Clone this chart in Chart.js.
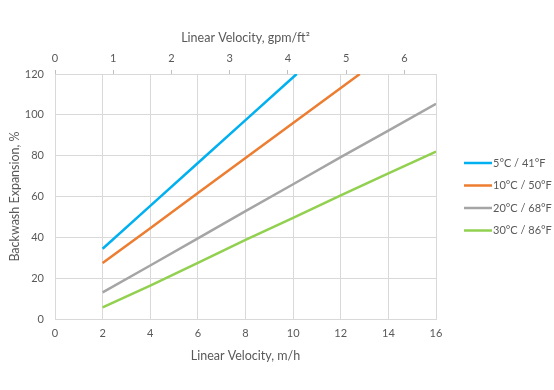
<!DOCTYPE html>
<html>
<head>
<meta charset="utf-8">
<script src="https://cdn.jsdelivr.net/npm/chart.js@4/dist/chart.umd.min.js"></script>
<style>
  body { margin: 0; background: #fff; }
</style>
</head>
<body>
<canvas id="chart" width="554" height="390"></canvas>
<script>
// values (x = linear velocity m/h, y = backwash expansion %)
const velocity = [2, 4, 6, 8, 10, 12, 14, 16];
const velocity5C = [2, 4, 6, 8, 10, 10.15];
const velocity10C = [2, 4, 6, 8, 10, 12, 12.8];

const expansion5C = [34.4, 55.4, 76.4, 97.4, 118.4, 120];
const expansion10C = [27.4, 44.5, 61.7, 78.8, 96, 113.2, 120];
const expansion20C = [13, 26.2, 39.5, 52.8, 66, 79.3, 92.3, 105.4];
const expansion30C = [5.7, 16.3, 27.5, 38.7, 49.5, 60.5, 71.3, 82];

const seriesLabels = ['5°C / 41°F', '10°C / 50°F', '20°C / 68°F', '30°C / 86°F'];
const seriesColors = ['#00B0F0', '#ED7D31', '#A5A5A5', '#92D050'];

const gpmTicks = [0, 1, 2, 3, 4, 5, 6];

const GPM_PER_MH = 0.409; // 1 m/h = 0.409 gpm/ft2
const textColor = '#595959';
const gridColor = '#D9D9D9';
const fontFamily = 'Lato, "Open Sans", sans-serif';

function toPoints(xs, ys) {
    return xs.map((x, i) => ({ x: x, y: ys[i] }));
}

const datasets = [
    toPoints(velocity5C, expansion5C),
    toPoints(velocity10C, expansion10C),
    toPoints(velocity, expansion20C),
    toPoints(velocity, expansion30C)
].map((data, i) => ({
    label: seriesLabels[i],
    data: data,
    borderColor: seriesColors[i],
    backgroundColor: seriesColors[i],
    borderWidth: 2.5,
    pointRadius: 0,
    tension: 0,
    xAxisID: 'x'
}));

// Excel-style legend: short line, label right next to it
const sideLegend = {
    id: 'sideLegend',
    afterDraw(chart) {
        const ctx = chart.ctx;
        const left = chart.chartArea.right + 28;
        const top = 163;
        const step = 22.5;
        ctx.save();
        ctx.font = '11px ' + fontFamily;
        ctx.textBaseline = 'middle';
        ctx.fillStyle = textColor;
        chart.data.datasets.forEach((ds, i) => {
            const y = top + i * step;
            ctx.strokeStyle = ds.borderColor;
            ctx.lineWidth = 2.5;
            ctx.beginPath();
            ctx.moveTo(left, y);
            ctx.lineTo(left + 28, y);
            ctx.stroke();
            ctx.fillText(ds.label, left + 29, y);
        });
        ctx.restore();
    }
};

new Chart(document.getElementById('chart'), {
    type: 'line',
    data: { datasets: datasets },
    plugins: [sideLegend],
    options: {
        responsive: false,
        animation: false,
        layout: { padding: { top: 26, left: 5, right: 118, bottom: 23 } },
        plugins: {
            tooltip: { enabled: false },
            legend: { display: false }
        },
        scales: {
            x: {
                type: 'linear',
                position: 'bottom',
                min: 0,
                max: 16,
                afterFit: axis => { axis.height = 48; },
                ticks: { stepSize: 2, color: textColor, font: { family: fontFamily, size: 11 }, padding: 8 },
                grid: { color: gridColor, drawTicks: false },
                border: { color: gridColor },
                title: {
                    display: true,
                    text: 'Linear Velocity, m/h',
                    color: textColor,
                    font: { family: fontFamily, size: 12.5 },
                    padding: { top: 4, bottom: 4 }
                }
            },
            x2: {
                type: 'linear',
                position: 'top',
                min: 0,
                max: 16 * GPM_PER_MH,
                afterBuildTicks: axis => {
                    axis.ticks = gpmTicks.map(v => ({ value: v }));
                },
                afterFit: axis => { axis.height = 48; },
                ticks: { color: textColor, font: { family: fontFamily, size: 11 }, padding: 5 },
                grid: { drawOnChartArea: false, drawTicks: true, tickLength: 4, color: '#BFBFBF' },
                border: { color: gridColor },
                title: {
                    display: true,
                    text: 'Linear Velocity, gpm/ft²',
                    color: textColor,
                    font: { family: fontFamily, size: 12.5 },
                    padding: { top: 4, bottom: 4 }
                }
            },
            y: {
                min: 0,
                max: 120,
                afterFit: axis => { axis.width = 50; },
                ticks: { stepSize: 20, color: textColor, font: { family: fontFamily, size: 11 }, padding: 11 },
                grid: { color: gridColor, drawTicks: false },
                border: { color: gridColor },
                title: {
                    display: true,
                    text: 'Backwash Expansion, %',
                    color: textColor,
                    font: { family: fontFamily, size: 12.5 },
                    padding: { top: 2, bottom: 2 }
                }
            }
        }
    }
});
</script>
</body>
</html>
